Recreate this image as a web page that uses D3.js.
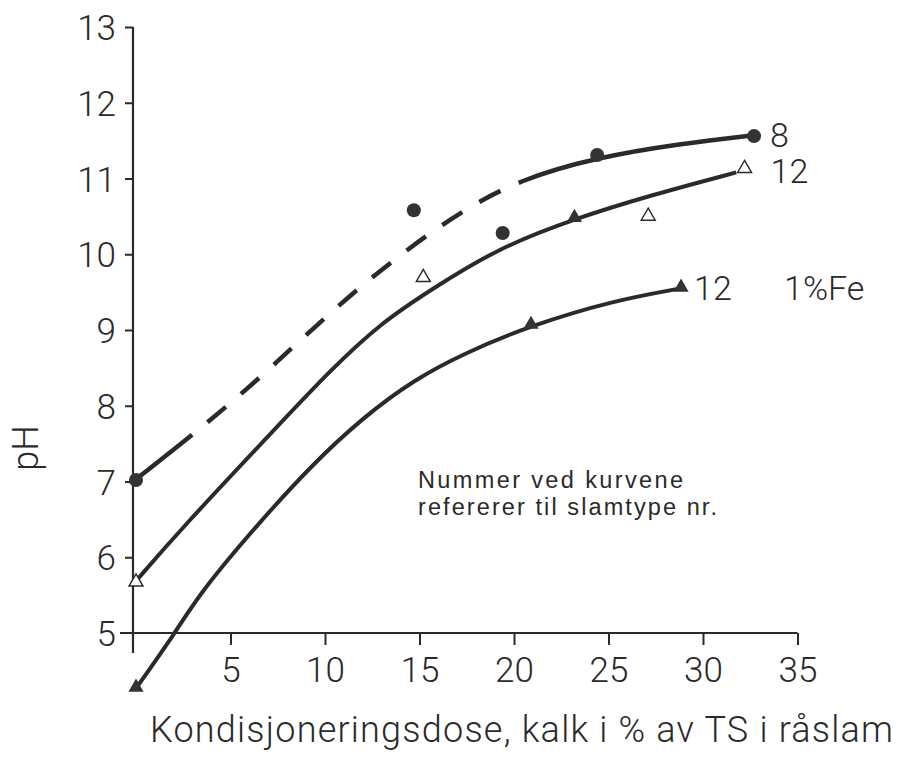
<!DOCTYPE html>
<html>
<head>
<meta charset="utf-8">
<script src="https://cdn.jsdelivr.net/npm/d3@7/dist/d3.min.js"></script>
<style>
  html, body { margin: 0; padding: 0; background: #fff; }
  svg { display: block; }
</style>
</head>
<body>
<svg id="chart" width="904" height="758"></svg>
<script>
// ---- data ----
const xTicks = [5, 10, 15, 20, 25, 30, 35];
const yTicks = [5, 6, 7, 8, 9, 10, 11, 12, 13];

// curve for sludge type 8 (dashed in the middle)
const curve8 = [[0.05, 7.04], [2.97, 7.61], [5.94, 8.23], [8.80, 8.89], [11.51, 9.50],
  [14.42, 10.08], [17.29, 10.58], [20.25, 10.98], [24.39, 11.28], [28.84, 11.46], [32.66, 11.57]];
const dashFrom8 = 2.97, dashTo8 = 20.25;
const points8 = [[0, 7.02], [14.7, 10.58], [19.4, 10.28], [24.4, 11.31], [32.7, 11.56]];

// curve for sludge type 12 (upper)
const curve12 = [[0.05, 5.70], [2.33, 6.36], [7.64, 7.77], [10.29, 8.47], [12.94, 9.09],
  [15.59, 9.53], [19.14, 10.08], [23.22, 10.47], [27.25, 10.78], [31.76, 11.08]];
const points12Open = [[0, 5.66], [15.2, 9.68], [27.1, 10.49], [32.2, 11.12]];

// curve for sludge type 12 with 1% Fe (lower)
const curve12Fe = [[0, 4.27], [2.07, 5.0], [3.39, 5.53], [6.31, 6.40], [9.38, 7.24],
  [12.04, 7.85], [14.69, 8.34], [17.34, 8.69], [20.89, 9.06], [25.29, 9.39], [28.84, 9.55]];
const pointsFilledTri = [[0, 4.27], [20.9, 9.06], [23.2, 10.47], [28.84, 9.55]];

const curveLabels = [
  { text: "8", at: [32.7, 11.56], dx: 16, dy: 11 },
  { text: "12", at: [32.2, 11.12], dx: 26, dy: 14 },
  { text: "12", at: [28.84, 9.55], dx: 13, dy: 12 },
  { text: "1%Fe", at: [28.84, 9.55], dx: 103, dy: 12 }
];
const noteLines = ["Nummer ved kurvene", "refererer til slamtype nr."];
const noteWidths = [265, 299];
const xTitle = "Kondisjoneringsdose, kalk i % av TS i råslam";
const yTitle = "pH";

// ---- drawing ----
const ink = "#2a2a2a";
const svg = d3.select("#chart");
svg.append("rect").attr("width", 904).attr("height", 758).attr("fill", "#fff");

const x = d3.scaleLinear().domain([0, 35]).range([136, 797.5]);
const y = d3.scaleLinear().domain([5, 13]).range([633, 27]);

const numFont = "Roboto, 'DejaVu Sans', sans-serif";

// axis lines (extended slightly beyond the origin like the original)
svg.append("line").attr("x1", x(0) - 3).attr("x2", x(0) - 3)
  .attr("y1", y(13)).attr("y2", y(5) + 20)
  .attr("stroke", ink).attr("stroke-width", 2.2);
svg.append("line").attr("x1", x(0) - 16).attr("x2", x(35))
  .attr("y1", y(5)).attr("y2", y(5))
  .attr("stroke", ink).attr("stroke-width", 2.2);

// y axis
const yAxis = svg.append("g").attr("transform", `translate(${x(0) - 3},0)`)
  .call(d3.axisLeft(y).tickValues(yTicks).tickSize(8).tickPadding(9).tickFormat(d3.format("d")));
yAxis.select(".domain").remove();
yAxis.selectAll(".tick line").attr("stroke", ink).attr("stroke-width", 2);
yAxis.selectAll(".tick").filter(d => d === 5).select("line").remove();
yAxis.selectAll("text").attr("font-family", numFont).attr("font-weight", 300)
  .attr("font-size", 35).attr("fill", ink).attr("dy", "0.36em");

// x axis
const xAxis = svg.append("g").attr("transform", `translate(0,${y(5)})`)
  .call(d3.axisBottom(x).tickValues(xTicks).tickSize(12).tickPadding(12).tickFormat(d3.format("d")));
xAxis.select(".domain").remove();
xAxis.selectAll(".tick line").attr("stroke", ink).attr("stroke-width", 2);
xAxis.selectAll("text").attr("font-family", numFont).attr("font-weight", 300)
  .attr("font-size", 35).attr("fill", ink).attr("dy", "0.72em");

// curves
const line = d3.line().x(d => x(d[0])).y(d => y(d[1])).curve(d3.curveBasis);

const p8 = svg.append("path").attr("d", line(curve8)).attr("fill", "none")
  .attr("stroke", ink).attr("stroke-width", 4.5);
// compute dash pattern for middle part
(function () {
  const node = p8.node();
  const total = node.getTotalLength();
  function lenAtX(px) {
    let lo = 0, hi = total;
    for (let i = 0; i < 40; i++) {
      const mid = (lo + hi) / 2;
      if (node.getPointAtLength(mid).x < px) lo = mid; else hi = mid;
    }
    return (lo + hi) / 2;
  }
  const L1 = lenAtX(x(dashFrom8)), L2 = lenAtX(x(dashTo8));
  const seg = L2 - L1, d = 24, g = 20;
  const n = Math.max(1, Math.round((seg - g) / (d + g)));
  const k = seg / (n * d + (n + 1) * g);
  const arr = [L1];
  for (let i = 0; i < n; i++) arr.push(g * k, d * k);
  arr.push(g * k, total - L2 + 50);
  p8.attr("stroke-dasharray", arr.join(" "));
})();

svg.append("path").attr("d", line(curve12)).attr("fill", "none")
  .attr("stroke", ink).attr("stroke-width", 4);
svg.append("path").attr("d", line(curve12Fe)).attr("fill", "none")
  .attr("stroke", ink).attr("stroke-width", 4);

// markers
svg.append("g").selectAll("circle").data(points8).join("circle")
  .attr("cx", d => x(d[0])).attr("cy", d => y(d[1])).attr("r", 7).attr("fill", "#333");

const tri = d3.symbol().type(d3.symbolTriangle);
svg.append("g").selectAll("path").data(points12Open).join("path")
  .attr("d", tri.size(85)())
  .attr("transform", d => `translate(${x(d[0])},${y(d[1]) - 1})`)
  .attr("fill", "#fff").attr("stroke", ink).attr("stroke-width", 1.4);
svg.append("g").selectAll("path").data(pointsFilledTri).join("path")
  .attr("d", tri.size(100)())
  .attr("transform", d => `translate(${x(d[0])},${y(d[1]) - 1})`)
  .attr("fill", "#333");

// curve labels
svg.append("g").selectAll("text").data(curveLabels).join("text")
  .attr("x", d => x(d.at[0]) + d.dx).attr("y", d => y(d.at[1]) + d.dy)
  .attr("font-family", numFont).attr("font-weight", 300).attr("font-size", 34)
  .attr("fill", ink).text(d => d.text);

// note
svg.append("g").selectAll("text").data(noteLines).join("text")
  .attr("x", 418).attr("y", (d, i) => 488 + i * 27)
  .attr("font-family", "'Liberation Sans', Arial, sans-serif").attr("font-size", 23.5)
  .attr("textLength", (d, i) => noteWidths[i])
  .attr("fill", ink).text(d => d);

// axis titles
svg.append("text").attr("x", 150).attr("y", 742)
  .attr("font-family", numFont).attr("font-weight", 300).attr("font-size", 36)
  .attr("textLength", 743).attr("fill", ink).text(xTitle);
svg.append("text").attr("transform", "translate(38,448) rotate(-90)")
  .attr("text-anchor", "middle")
  .attr("font-family", numFont).attr("font-weight", 300).attr("font-size", 36)
  .attr("fill", ink).text(yTitle);
</script>
</body>
</html>
